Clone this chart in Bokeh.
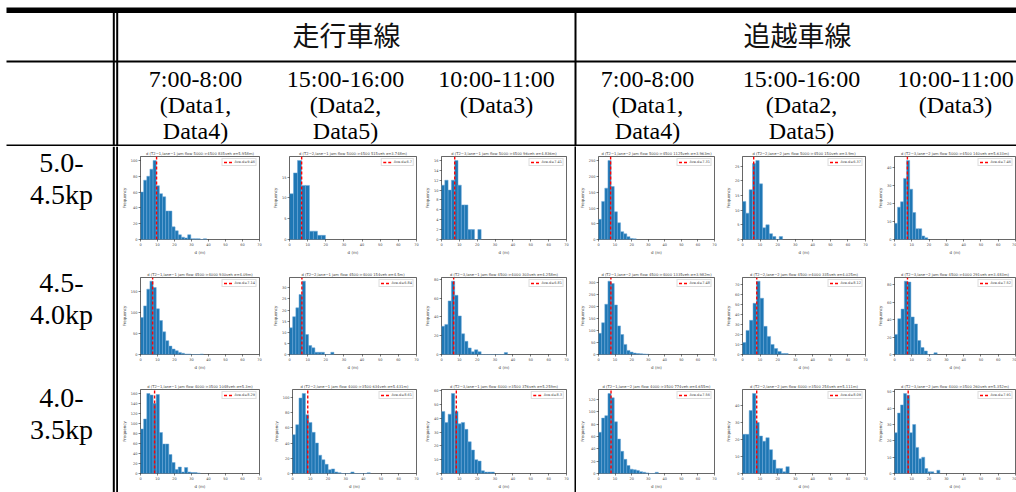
import numpy as np
from bokeh.plotting import figure
from bokeh.layouts import row, column
from bokeh.models import Range1d, FixedTicker
from bokeh.embed import file_html
from bokeh.resources import INLINE
from bokeh.core.properties import value

# ---------------- table texts ----------------
lane_groups = ["走行車線", "追越車線"]
lane_ids = [1, 2]
period_lines = [
    ["7:00-8:00", "(Data1,", "Data4)"],
    ["15:00-16:00", "(Data2,", "Data5)"],
    ["10:00-11:00", "(Data3)"],
]
section_lines = [["5.0-", "4.5kp"], ["4.5-", "4.0kp"], ["4.0-", "3.5kp"]]
section_flow = [(5000, 4500), (4500, 4000), (4000, 3500)]
d_ticks = [0, 10, 20, 30, 40, 50, 60, 70]

# ---------------- histogram counts (per bin, bins start at 0 m) ----------------
# lane-1 (走行車線)
l1_s1_p1 = [60, 75, 80, 89, 100, 68, 58, 54, 36, 36, 16, 11, 6, 3, 2, 6, 1, 1, 1, 0, 1]
l1_s1_p2 = [11, 16, 19, 13, 13, 2, 2, 1, 1]
l1_s1_p3 = [11, 12, 10, 12, 16, 11, 7, 7, 2, 2, 0, 2]
l1_s2_p1 = [88, 116, 156, 175, 160, 109, 81, 54, 33, 20, 13, 9, 5, 3, 1, 1, 0, 0, 0, 1]
l1_s2_p2 = [12, 17, 21, 27, 33, 9, 4, 3, 1, 1, 1, 0, 0, 1]
l1_s2_p3 = [30, 32, 57, 78, 63, 41, 22, 14, 7, 3, 5, 3, 0, 0, 0, 0, 0, 0, 0, 2]
l1_s3_p1 = [89, 109, 160, 157, 140, 158, 82, 59, 59, 38, 22, 8, 13, 3, 12, 3, 2, 2, 1]
l1_s3_p2 = [51, 64, 99, 105, 77, 67, 54, 40, 24, 18, 12, 5, 6, 2, 1, 0, 0, 0, 2, 0, 0, 0, 0, 1]
l1_s3_p3 = [45, 37, 43, 58, 45, 36, 37, 32, 23, 17, 10, 9, 2, 1, 1, 1]
# lane-2 (追越車線)
l2_s1_p1 = [64, 121, 163, 251, 168, 88, 53, 25, 18, 9, 3, 2]
l2_s1_p2 = [13, 9, 17, 26, 27, 19, 4, 5, 2, 1, 0, 1]
l2_s1_p3 = [9, 18, 21, 34, 44, 28, 15, 6, 6, 2, 1]
l2_s2_p1 = [88, 132, 209, 305, 295, 206, 119, 83, 42, 17, 10, 6, 4, 3, 2, 1]
l2_s2_p2 = [12, 24, 34, 51, 73, 56, 28, 18, 10, 6, 3, 1, 1]
l2_s2_p3 = [23, 41, 52, 84, 83, 43, 35, 16, 8, 4, 0, 0, 2]
l2_s3_p1 = [67, 90, 94, 130, 123, 84, 56, 36, 23, 13, 7, 6, 5, 3, 2, 1, 0, 0, 2]
l2_s3_p2 = [23, 23, 37, 47, 30, 22, 19, 21, 14, 8, 3, 3, 1, 4]
l2_s3_p3 = [25, 37, 42, 49, 48, 25, 30, 16, 9, 10, 3, 1, 1, 0, 2]

# bin widths [m]   rows: section, cols: period
l1_bin_w = [[1.85, 2.2, 1.85], [1.85, 1.75, 1.85], [1.85, 1.83, 1.85]]
l2_bin_w = [[1.9, 1.9, 1.75], [1.9, 2.0, 1.9], [1.9, 1.9, 1.75]]
# average gap (Ave.d) [m]
l1_mean = [[9.46, 6.7, 7.41], [7.14, 6.84, 6.81], [8.29, 8.61, 8.3]]
l2_mean = [[7.31, 6.37, 7.46], [7.48, 8.12, 7.52], [7.56, 8.09, 7.91]]
# vehicles and sigma in titles
l1_veh = [[835, 515, 96], [930, 154, 303], [1048, 634, 376]]
l2_veh = [[1125, 150, 140], [1335, 335, 291], [774, 254, 260]]
l1_sigma = [[5.958, 3.748, 4.836], [4.09, 4.5, 4.258], [5.3, 5.431, 5.259]]
l2_sigma = [[3.963, 3.9, 5.633], [3.982, 4.025, 3.483], [4.655, 5.111, 5.352]]

counts = {
    1: [[l1_s1_p1, l1_s1_p2, l1_s1_p3], [l1_s2_p1, l1_s2_p2, l1_s2_p3], [l1_s3_p1, l1_s3_p2, l1_s3_p3]],
    2: [[l2_s1_p1, l2_s1_p2, l2_s1_p3], [l2_s2_p1, l2_s2_p2, l2_s2_p3], [l2_s3_p1, l2_s3_p2, l2_s3_p3]],
}
bin_w = {1: l1_bin_w, 2: l2_bin_w}
means = {1: l1_mean, 2: l2_mean}
vehs = {1: l1_veh, 2: l2_veh}
sigmas = {1: l1_sigma, 2: l2_sigma}

# ---------------- layout geometry ----------------
PAGE_W = 1016
HEAD_H = 146
ROW_H = [112, 114, 120]
LEFT_W = 118
DIV_W = 2
COL_W = {1: [152, 152, 152], 2: [146, 146, 148]}
COL_ML = {1: [13, 17, 17], 2: [17, 20, 26]}
COL_MR = {1: [11, 6, 8], 2: [8, 3, 1]}
ROW_MT = [10, 19, 17]
ROW_MB = [19, 13, 19]

SERIF = value("Liberation Serif")
CJK = value("Noto Sans CJK JP")
MPL = "DejaVu Sans"


def blank(width, height, xr, yr):
    p = figure(width=width, height=height, x_range=xr, y_range=yr,
               output_backend="svg", toolbar_location=None, min_border=0,
               outline_line_color=None, x_axis_type=None, y_axis_type=None)
    p.grid.visible = False
    return p


# ---------------- header ----------------
head = blank(PAGE_W, HEAD_H, Range1d(0, PAGE_W), Range1d(HEAD_H, 0))
# thick top rule
head.segment(x0=[6], y0=[9.8], x1=[PAGE_W], y1=[9.8], line_color="black", line_width=5.5)
# horizontal rules
head.segment(x0=[6, 6], y0=[61, 145], x1=[PAGE_W, PAGE_W], y1=[61, 145],
             line_color="black", line_width=2)
# vertical rules (double left, single middle)
head.segment(x0=[113.3, 116.7, 575], y0=[12, 12, 12], x1=[113.3, 116.7, 575],
             y1=[HEAD_H, HEAD_H, HEAD_H], line_color="black", line_width=2)
group_cx = [346, 797]
head.text(x=group_cx, y=[34, 34], text=lane_groups, text_font=CJK, text_font_size="27px",
          text_align="center", text_baseline="middle", text_color="#111111")
period_cx = [[195, 345, 496], [647, 801, 955]]
tx, ty, tt = [], [], []
for g in range(2):
    for c, lines in enumerate(period_lines):
        for k, line in enumerate(lines):
            tx.append(period_cx[g][c])
            ty.append(78 + 26 * k)
            tt.append(line)
head.text(x=tx, y=ty, text=tt, text_font=SERIF, text_font_size="24px",
          text_align="center", text_baseline="middle", text_color="black")

# ---------------- left column ----------------
BODY_H = sum(ROW_H)
left = blank(LEFT_W, BODY_H, Range1d(0, LEFT_W), Range1d(BODY_H, 0))
left.segment(x0=[113.3, 116.7], y0=[0, 0], x1=[113.3, 116.7], y1=[BODY_H, BODY_H],
             line_color="black", line_width=2)
label_y = [[16, 48], [136, 168], [251, 283]]
lx, ly, lt = [], [], []
for s, lines in enumerate(section_lines):
    for k, line in enumerate(lines):
        lx.append(61)
        ly.append(label_y[s][k])
        lt.append(line)
left.text(x=lx, y=ly, text=lt, text_font=SERIF, text_font_size="28px",
          text_align="center", text_baseline="middle", text_color="black")

# ---------------- divider ----------------
divider = figure(width=DIV_W, height=BODY_H, output_backend="svg", toolbar_location=None,
                 min_border=0, outline_line_color=None, x_axis_type=None, y_axis_type=None,
                 background_fill_color="black", border_fill_color="black",
                 x_range=Range1d(0, 1), y_range=Range1d(0, 1))
divider.grid.visible = False


# ---------------- histograms ----------------
def make_hist(lane, s, c):
    cnt = np.asarray(counts[lane][s][c], dtype=float)
    bw = bin_w[lane][s][c]
    mean = means[lane][s][c]
    edges = np.arange(len(cnt) + 1) * bw
    ymax = cnt.max() * 1.05
    a, b = section_flow[s]
    title = (f"d (T2\u2212{c + 1},lane\u2212{lane} jam flow {a}->{b} "
             f"{vehs[lane][s][c]}veh \u03c3={sigmas[lane][s][c]}m)")
    p = figure(width=COL_W[lane][c], height=ROW_H[s],
               x_range=Range1d(0, 70), y_range=Range1d(0, ymax),
               output_backend="svg", toolbar_location=None,
               min_border_left=COL_ML[lane][c], min_border_right=COL_MR[lane][c],
               min_border_top=ROW_MT[s], min_border_bottom=ROW_MB[s], title=title)
    p.quad(left=edges[:-1], right=edges[1:], bottom=0, top=cnt,
           fill_color="#1f77b4", line_color="#6aa6d8", line_width=0.5)
    p.segment(x0=[mean], y0=[0], x1=[mean], y1=[ymax], line_color="#ff0000",
              line_width=1.4, line_dash="3 2", legend_label=f"Ave.d={mean}")
    p.title.text_font = MPL
    p.title.text_font_size = "3.7px"
    p.title.text_font_style = "normal"
    p.title.align = "center"
    p.title.standoff = 1
    p.grid.visible = False
    p.outline_line_color = "black"
    p.outline_line_width = 0.6
    p.xaxis.ticker = FixedTicker(ticks=d_ticks)
    p.yaxis.ticker.desired_num_ticks = 6
    p.xaxis.axis_label = "d (m)"
    p.yaxis.axis_label = "Frequency"
    for ax in (p.xaxis[0], p.yaxis[0]):
        ax.major_label_text_font = MPL
        ax.axis_label_text_font = MPL
        ax.major_label_text_font_size = "3.5px"
        ax.axis_label_text_font_size = "4px"
        ax.axis_label_text_font_style = "normal"
        ax.major_label_standoff = 1
        ax.axis_label_standoff = 1
        ax.major_tick_out = 2
        ax.major_tick_in = 0
        ax.minor_tick_out = 0
        ax.minor_tick_in = 0
        ax.major_tick_line_width = 0.5
        ax.axis_line_color = None
    lg = p.legend[0]
    lg.location = "top_right"
    lg.label_text_font = MPL
    lg.label_text_font_size = "3.5px"
    lg.glyph_width = 9
    lg.glyph_height = 4
    lg.label_height = 4
    lg.label_width = 12
    lg.padding = 1
    lg.spacing = 0
    lg.margin = 2
    lg.label_standoff = 2
    lg.border_line_color = "#bbbbbb"
    lg.border_line_width = 0.5
    lg.background_fill_alpha = 0.9
    return p


group_cols = {}
for lane in lane_ids:
    rows_ = []
    for s in range(3):
        rows_.append(row([make_hist(lane, s, c) for c in range(3)]))
    group_cols[lane] = column(rows_)

layout = column(head, row(left, group_cols[1], divider, group_cols[2]))

with open("out.html", "w", encoding="utf-8") as f:
    f.write(file_html(layout, INLINE))
